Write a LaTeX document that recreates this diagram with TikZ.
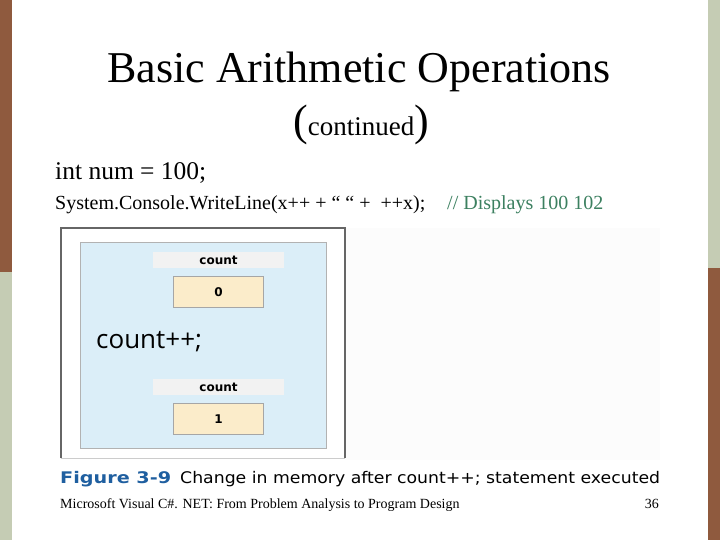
\documentclass[tikz,border=0pt]{standalone}
\usepackage{fontspec}
\setmainfont{Liberation Serif}
\newfontfamily\figfont{DejaVu Sans}
\newfontfamily\codefont{Open Sans}
\usetikzlibrary{positioning}
\definecolor{slidebrown}{RGB}{143,90,62}
\definecolor{slidegreen}{RGB}{197,204,180}
\definecolor{memblue}{RGB}{219,238,248}
\definecolor{memcell}{RGB}{251,236,202}
\definecolor{memlabel}{RGB}{242,242,242}
\definecolor{figblue}{RGB}{31,95,160}
\definecolor{commentgreen}{RGB}{60,128,96}

\tikzset{
  labelbox/.style={fill=memlabel, minimum width=131pt, minimum height=16pt,
    inner sep=0pt, font=\figfont\bfseries\fontsize{12}{13}\selectfont},
  cellbox/.style={draw=gray!70, fill=memcell, minimum width=90pt, minimum height=31pt,
    inner sep=0pt, font=\figfont\bfseries\fontsize{12}{13}\selectfont},
}

\begin{document}
\begin{tikzpicture}[x=1pt, y=-1pt]

\useasboundingbox (0,0) rectangle (720,540);
\fill[white] (0,0) rectangle (720,540);

% side bars
\fill[slidebrown] (0,0) rectangle (12,272);
\fill[slidegreen] (0,272) rectangle (12,540);
\fill[slidegreen] (708,0) rectangle (720,268);
\fill[slidebrown] (708,268) rectangle (720,540);

% title
\node[font=\fontsize{44}{48}\selectfont, anchor=base] (title) at (359,83)
  {Basic Arithmetic Operations};
\node[anchor=base] (subtitle) at (361,136)
  {{\fontsize{44}{48}\selectfont(}{\fontsize{27}{30}\selectfont continued}{\fontsize{44}{48}\selectfont)}};

% code lines
\node[anchor=base west, inner sep=0pt, font=\fontsize{25.5}{28}\selectfont] (decl) at (55,180)
  {int num = 100;};
\node[anchor=base west, inner sep=0pt, font=\fontsize{20}{22}\selectfont] (call) at (55,210)
  {System.Console.WriteLine(x++ + “ “ + \ ++x);};
\node[anchor=base west, inner sep=0pt, font=\fontsize{20}{22}\selectfont, text=commentgreen] (comment) at (447,210)
  {// Displays 100 102};

% figure
\fill[black!1] (345,228) rectangle (660,460);
\draw[gray!40, line width=1pt] (61,458) -- (345,458);
\draw[gray!80!black, line width=1.2pt] (61,458) -- (61,228) -- (345,228) -- (345,458);
\draw[gray!60, fill=memblue] (80,242) rectangle (326,448);

\foreach \v/\y in {0/252, 1/379} {
  \node[labelbox] (label-\v) at (218.5,\y+8) {count};
  \node[cellbox, below=8pt of label-\v] (cell-\v) {\v};
}

\node[anchor=west, inner sep=0pt, font=\codefont\fontsize{26}{28}\selectfont] (stmt) at (96,342)
  {count++;};

% caption
\node[anchor=base west, inner sep=0pt, font=\figfont\bfseries\fontsize{16}{18}\selectfont, text=figblue] (fignum) at (60,483)
  {\scalebox{1.2}[1]{Figure 3-9}};
\node[anchor=base west, inner sep=0pt, font=\figfont\fontsize{16}{18}\selectfont] (figcap) at (180,483)
  {\scalebox{1.08}[1]{Change in memory after count++; statement executed}};

% footer
\node[anchor=base west, inner sep=0pt, font=\fontsize{14}{16}\selectfont] (footer) at (60,508)
  {Microsoft Visual C\#. NET: From Problem Analysis to Program Design};
\node[anchor=base east, inner sep=0pt, font=\fontsize{14}{16}\selectfont] (page) at (659,508)
  {36};

\end{tikzpicture}
\end{document}
